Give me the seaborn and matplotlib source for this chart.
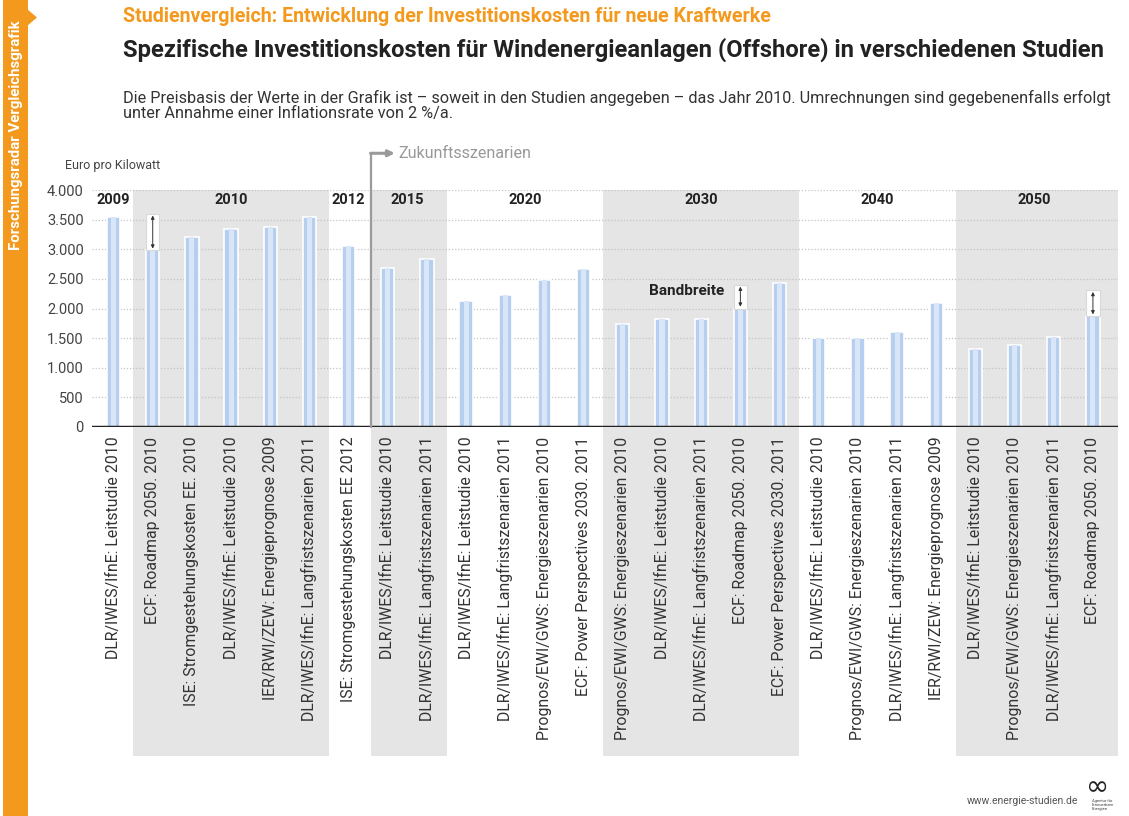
import numpy as np
import pandas as pd
import seaborn as sns
import matplotlib.pyplot as plt
import matplotlib.transforms as mtransforms
from matplotlib.patches import Rectangle, Polygon

# data
studies = [
    'DLR/IWES/IfnE: Leitstudie 2010',
    'ECF: Roadmap 2050. 2010',
    'ISE: Stromgestehungskosten EE. 2010',
    'DLR/IWES/IfnE: Leitstudie 2010',
    'IER/RWI/ZEW: Energieprognose 2009',
    'DLR/IWES/IfnE: Langfristszenarien 2011',
    'ISE: Stromgestehungskosten EE 2012',
    'DLR/IWES/IfnE: Leitstudie 2010',
    'DLR/IWES/IfnE: Langfristszenarien 2011',
    'DLR/IWES/IfnE: Leitstudie 2010',
    'DLR/IWES/IfnE: Langfristszenarien 2011',
    'Prognos/EWI/GWS: Energieszenarien 2010',
    'ECF: Power Perspectives 2030. 2011',
    'Prognos/EWI/GWS: Energieszenarien 2010',
    'DLR/IWES/IfnE: Leitstudie 2010',
    'DLR/IWES/IfnE: Langfristszenarien 2011',
    'ECF: Roadmap 2050. 2010',
    'ECF: Power Perspectives 2030. 2011',
    'DLR/IWES/IfnE: Leitstudie 2010',
    'Prognos/EWI/GWS: Energieszenarien 2010',
    'DLR/IWES/IfnE: Langfristszenarien 2011',
    'IER/RWI/ZEW: Energieprognose 2009',
    'DLR/IWES/IfnE: Leitstudie 2010',
    'Prognos/EWI/GWS: Energieszenarien 2010',
    'DLR/IWES/IfnE: Langfristszenarien 2011',
    'ECF: Roadmap 2050. 2010',
]
costs = [3550, 2980, 3200, 3350, 3380, 3550, 3050, 2680, 2840,
         2120, 2230, 2480, 2670, 1730, 1820, 1820, 2000, 2430,
         1500, 1500, 1600, 2100, 1310, 1390, 1520, 1870]
years = ['2009', '2010', '2012', '2015', '2020', '2030', '2040', '2050']
year_sizes = [1, 5, 1, 2, 4, 5, 4, 4]
year_shaded = [False, True, False, True, False, True, False, True]
range_idx = [1, 16, 25]
range_high = [3600, 2400, 2310]
yticks = [0, 500, 1000, 1500, 2000, 2500, 3000, 3500, 4000]

W, H = 1129, 816
ORANGE = '#f39a1e'
BAR = '#b7cfee'
BAND = '#e5e5e5'

sns.set_theme(style='white')
plt.rcParams['font.family'] = ['Roboto', 'DejaVu Sans']

df = pd.DataFrame({'pos': range(len(costs)), 'cost': costs})

fig = plt.figure(figsize=(W / 100, H / 100), dpi=100)
fig.patch.set_facecolor('white')


def fx(px):
    return px / W


def fy(py):
    return 1 - py / H


ax = fig.add_axes([fx(92), fy(427), fx(1118) - fx(92), fy(190) - fy(427)])
ax.set_facecolor('none')

xmin, xmax = -0.55, 25.64
bw = 0.34

# shaded year bands, reaching down into the label area
blend = mtransforms.blended_transform_factory(ax.transData, fig.transFigure)
starts = np.cumsum([0] + year_sizes[:-1])
for yr, s, n, sh in zip(years, starts, year_sizes, year_shaded):
    x0 = s - 0.5
    x1 = s + n - 0.5
    if s + n == len(costs):
        x1 = xmax
    if yr == '2015':
        x0 = s - 0.42
    if sh:
        ax.add_patch(Rectangle((x0, fy(756)), x1 - x0, fy(190) - fy(756),
                               transform=blend, facecolor=BAND, edgecolor='none',
                               zorder=0.1, clip_on=False))
    ax.text((s + s + n - 1) / 2, 3830, yr, ha='center', va='center',
            fontsize=10.5, fontweight='bold', color='#222222', zorder=5)

sns.barplot(data=df, x='pos', y='cost', color=BAR, width=bw, saturation=1,
            edgecolor='white', linewidth=1.2, ax=ax, zorder=2)
# lighter centre strip for the bar gradient
ax.bar(df['pos'], df['cost'], width=0.13, color='#d8e6f8', linewidth=0, zorder=2.5)

# range boxes ("Bandbreite")
for i, hi in zip(range_idx, range_high):
    lo = costs[i]
    ax.add_patch(Rectangle((i - bw / 2, lo), bw, hi - lo, facecolor='white',
                           edgecolor='#d8d8d8', lw=0.8, zorder=3))
    ax.annotate('', xy=(i, hi - 30), xytext=(i, lo + 30),
                arrowprops=dict(arrowstyle='<|-|>', color='#333333', lw=0.7,
                                mutation_scale=5, shrinkA=0, shrinkB=0), zorder=4)
ax.text(15.6, 2290, 'Bandbreite', ha='right', va='center', fontsize=11,
        fontweight='bold', color='#222222', zorder=5)

ax.set_xlim(xmin, xmax)
ax.set_ylim(0, 4000)
ax.set_yticks(yticks)
ax.set_yticklabels([f'{v:,}'.replace(',', '.') for v in yticks])
ax.set_xticks(range(len(studies)))
ax.set_xticklabels(studies, rotation=90, ha='center', va='top')
ax.tick_params(axis='x', length=0, pad=7, labelsize=11.4, labelcolor='#333333')
ax.tick_params(axis='y', length=0, pad=6, labelsize=10.5, labelcolor='#444444')
ax.set_xlabel('')
ax.set_ylabel('')
ax.set_axisbelow(True)
ax.yaxis.grid(True, color='#c4c4c4', linestyle=(0, (1, 1.5)), linewidth=0.9)
ax.xaxis.grid(False)
for sp in ax.spines.values():
    sp.set_visible(False)
ax.axhline(0, color='#222222', lw=2.5, zorder=6)

# separator to future scenarios
xs = 6.58
ax.plot([xs, xs], [0, 4620], color='#9a9a9a', lw=1.6, clip_on=False, zorder=6)
ax.annotate('', xy=(xs + 0.6, 4620), xytext=(xs - 0.02, 4620),
            arrowprops=dict(arrowstyle='-|>', color='#9a9a9a', lw=2.2,
                            mutation_scale=9, shrinkA=0, shrinkB=0),
            annotation_clip=False)
ax.text(xs + 0.7, 4620, 'Zukunftsszenarien', ha='left', va='center',
        fontsize=11.6, color='#999999', clip_on=False)

fig.text(fx(65), fy(166), 'Euro pro Kilowatt', ha='left', va='center',
         fontsize=9, color='#444444')

# header
fig.text(fx(123), fy(17), 'Studienvergleich: Entwicklung der Investitionskosten für neue Kraftwerke',
         ha='left', va='center', fontsize=14.1, fontweight='bold', color=ORANGE)
fig.text(fx(123), fy(50), 'Spezifische Investitionskosten für Windenergieanlagen (Offshore) in verschiedenen Studien',
         ha='left', va='center', fontsize=17.1, fontweight='bold', color='#222222')
fig.text(fx(123), fy(105),
         'Die Preisbasis der Werte in der Grafik ist – soweit in den Studien angegeben – das Jahr 2010. '
         'Umrechnungen sind gegebenenfalls erfolgt\nunter Annahme einer Inflationsrate von 2 %/a.',
         ha='left', va='center', fontsize=11.7, color='#333333', linespacing=1.0)

# orange side bar
fig.patches.append(Rectangle((fx(3), 0), fx(28) - fx(3), 1, transform=fig.transFigure,
                             facecolor=ORANGE, edgecolor='none', zorder=0))
fig.patches.append(Polygon([(fx(27), fy(9)), (fx(37), fy(17.5)), (fx(27), fy(26))],
                           closed=True, transform=fig.transFigure,
                           facecolor=ORANGE, edgecolor='none', zorder=0))
fig.text(fx(16), fy(20), 'Forschungsradar Vergleichsgrafik', rotation=90,
         ha='center', va='top', fontsize=10.8, fontweight='bold', color='white')

# footer
fig.text(fx(1078), fy(801), 'www.energie-studien.de', ha='right', va='center',
         fontsize=7.5, color='#555555')
fig.text(fx(1098), fy(787), '∞', ha='center', va='center', fontsize=20,
         color='#222222', family=['DejaVu Sans'])
fig.text(fx(1092), fy(805), 'Agentur für\nErneuerbare\nEnergien', ha='left', va='center',
         fontsize=3, color='#444444', linespacing=1.0)

fig.savefig('out.png', dpi=100, facecolor='white')
